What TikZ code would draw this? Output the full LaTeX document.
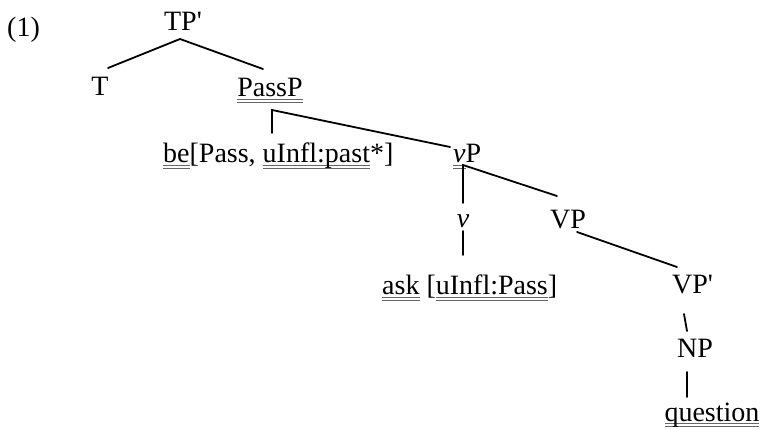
\documentclass[tikz,border=0pt]{standalone}
\usepackage{fontspec}
\setmainfont{Liberation Serif}
\newsavebox\ubox
\newcommand\uu[1]{\sbox\ubox{#1}\rlap{\color{black!60}\rule[-3.2pt]{\wd\ubox}{0.8pt}\hskip-\wd\ubox\rule[-5.4pt]{\wd\ubox}{0.8pt}}\usebox\ubox}
\newcommand\pr{\textquotesingle}
\begin{document}
\begin{tikzpicture}[x=1pt,y=-1pt,
  lbl/.style={inner sep=0pt, font=\fontsize{28}{33}\selectfont},
  br/.style={line width=1.8pt, line cap=round}]
\useasboundingbox (0,0) rectangle (766,430);
% labels
\node[lbl,anchor=base west] (ex) at (7,37) {(1)};
\node[lbl,anchor=base] (tp) at (183,31) {TP\pr};
\node[lbl,anchor=base] (t) at (100,96) {T};
\node[lbl,anchor=base] (pass) at (270,97) {\uu{PassP}};
\node[lbl,anchor=base west] (be) at (163,163) {\uu{be}[Pass, \uu{uInfl:past}*]};
\node[lbl,anchor=base west] (vp) at (453,163) {\uu{\textit{v}}P};
\node[lbl,anchor=base] (v) at (463,228) {\textit{v}};
\node[lbl,anchor=base west] (VP) at (550,229) {VP};
\node[lbl,anchor=base west] (ask) at (382,295) {\uu{ask} [\uu{uInfl:Pass}]};
\node[lbl,anchor=base west] (vpp) at (672,294) {VP\pr};
\node[lbl,anchor=base west] (np) at (677,358) {NP};
\node[lbl,anchor=base] (q) at (712,421) {\uu{question}};
% branch points
\coordinate (tpb) at (180,39);
\coordinate (tt) at (108,68);
\coordinate (passt) at (263,69);
\coordinate (passb) at (272,110);
\coordinate (bet) at (272,133);
\coordinate (vpt) at (450,147);
\coordinate (vpb) at (463,165);
\coordinate (vt) at (463,203);
\coordinate (VPt) at (557,196);
\coordinate (vb) at (463,231);
\coordinate (askt) at (463,255);
\coordinate (VPb) at (577,232);
\coordinate (vppt) at (677,267);
\coordinate (vppb) at (684,314);
\coordinate (npt) at (687,331);
\coordinate (npb) at (687,372);
\coordinate (qt) at (687,397);
% connectors
\draw[br] (tt) -- (tpb) -- (passt);
\draw[br] (bet) -- (passb) -- (vpt);
\draw[br] (vt) -- (vpb) -- (VPt);
\draw[br] (vb) -- (askt);
\draw[br] (VPb) -- (vppt);
\draw[br] (vppb) -- (npt);
\draw[br] (npb) -- (qt);
\end{tikzpicture}
\end{document}
